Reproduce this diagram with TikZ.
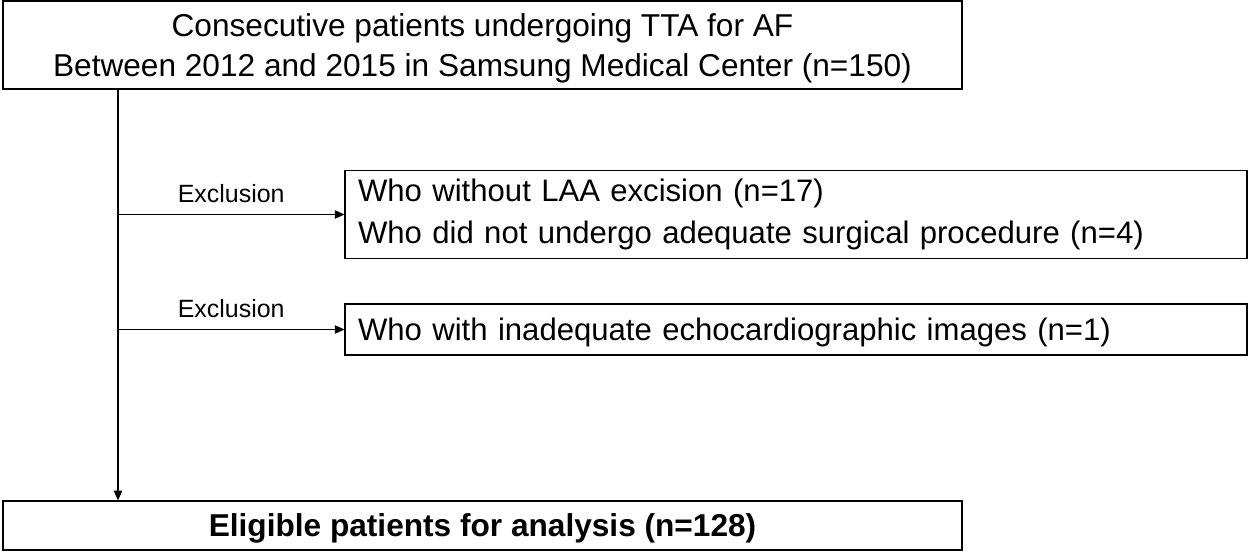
\documentclass[tikz,border=0pt]{standalone}
\usepackage{fontspec}
\setmainfont{Liberation Sans}
\usetikzlibrary{positioning,arrows.meta}

\begin{document}
\begin{tikzpicture}[
        x=0.02cm,y=-0.02cm,
        box/.style={
          draw,
          line width=0.7pt,
          inner sep=0pt,
          font=\fontsize{18}{22.7}\selectfont
        },
        sidebox/.style={
          box,
          align=left,
          text width=17.52cm,
          inner xsep=0.26cm,
          font=\fontsize{17.7}{23.8}\selectfont
        },
        excl/.style={
          font=\fontsize{14.2}{16}\selectfont,
          above=3pt
        },
        arr/.style={
          -{Triangle[length=5.5pt,width=4.8pt]},
          line width=0.6pt
        }
        ]
        \useasboundingbox (0,0) rectangle (1250,553);
        \node[box,minimum width=19.18cm,minimum height=1.76cm,align=center,text depth=-4pt] at (482.5,45)
          (cohort) {Consecutive patients undergoing TTA for AF\\Between 2012 and 2015 in Samsung Medical Center (n=150)};
        \node[sidebox,minimum height=1.76cm] at (796,214.5)
          (noLAA) {Who without LAA excision (n=17)\\Who did not undergo adequate surgical procedure (n=4)};
        \node[sidebox,minimum height=1.02cm,text depth=0.4pt] at (796,329.5)
          (echo) {Who with inadequate echocardiographic images (n=1)};
        \node[box,minimum width=19.18cm,minimum height=0.98cm,text depth=-0.8pt] at (482.5,525.5)
          (eligible) {\bfseries Eligible patients for analysis (n=128)};
        
        \coordinate (spine) at (118,0);
        
        \draw[arr] (cohort.south -| spine) -- (eligible.north -| spine);
        \draw[arr] (spine |- noLAA.west) -- node[excl] (excl1) {Exclusion} (noLAA.west);
        \draw[arr] (spine |- echo.west) -- node[excl] (excl2) {Exclusion} (echo.west);
    \end{tikzpicture}
\end{document}
